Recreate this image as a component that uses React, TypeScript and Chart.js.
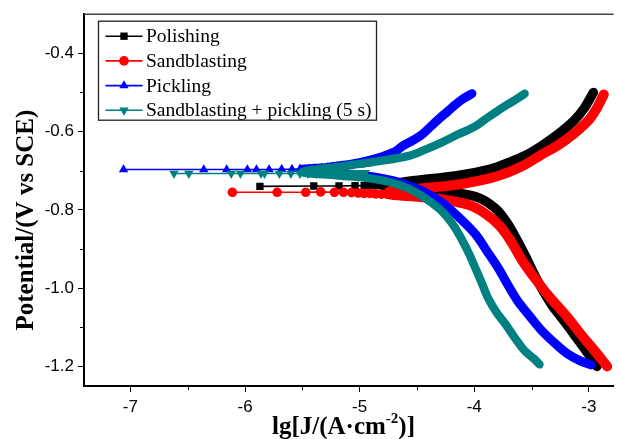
import React, { useEffect, useRef } from "react";
import { Chart, registerables } from "chart.js";

Chart.register(...registerables);

// ---------- axis values ----------
const xTickValues = [-7, -6, -5, -4, -3];
const yTickValues = [-1.2, -1.0, -0.8, -0.6, -0.4];
const xMinorTickValues = [-6.5, -5.5, -4.5, -3.5];
const yMinorTickValues = [-1.1, -0.9, -0.7, -0.5];
const xLimits = [-7.405, -2.784];
const yLimits = [-1.25, -0.3];

// ---------- series ----------
const seriesNames = ["Polishing", "Sandblasting", "Pickling", "Sandblasting + pickling (5 s)"];
const seriesColors = ["#000000", "#ff0000", "#0000ff", "#008080"];
const seriesMarkers = ["rect", "circle", "triangle", "triangleDown"];

// Polishing: [lg J, E]
const polishingCathodic = [
  [-2.93, -1.2], [-3.0, -1.17], [-3.1, -1.13], [-3.2, -1.09], [-3.33, -1.04], [-3.45, -0.98],
  [-3.55, -0.92], [-3.63, -0.875], [-3.72, -0.83], [-3.82, -0.795], [-3.99, -0.766],
  [-4.28, -0.752], [-4.55, -0.746], [-4.78, -0.742],
];
const polishingNearEcorr = [
  [-5.87, -0.74], [-5.4, -0.739], [-5.18, -0.739], [-5.04, -0.738], [-4.96, -0.738],
  [-4.9, -0.738], [-4.85, -0.738], [-4.8, -0.738],
];
const polishingAnodic = [
  [-4.78, -0.737], [-4.57, -0.727], [-4.14, -0.712], [-3.85, -0.695], [-3.71, -0.68],
  [-3.56, -0.662], [-3.42, -0.638], [-3.27, -0.607], [-3.13, -0.572], [-3.04, -0.54], [-2.96, -0.5],
];

// Sandblasting
const sandCathodic = [
  [-2.84, -1.2], [-2.95, -1.16], [-3.05, -1.125], [-3.2, -1.07], [-3.35, -1.02], [-3.47, -0.975],
  [-3.58, -0.93], [-3.68, -0.88], [-3.78, -0.84], [-3.9, -0.81], [-4.05, -0.787],
  [-4.3, -0.772], [-4.55, -0.765], [-4.75, -0.76],
];
const sandNearEcorr = [
  [-6.11, -0.755], [-5.72, -0.755], [-5.47, -0.755], [-5.34, -0.754], [-5.22, -0.755],
  [-5.14, -0.755], [-5.07, -0.756], [-5.01, -0.757], [-4.96, -0.758], [-4.91, -0.758],
  [-4.86, -0.759], [-4.81, -0.76], [-4.76, -0.76],
];
const sandAnodic = [
  [-4.74, -0.753], [-4.57, -0.748], [-4.14, -0.735], [-3.85, -0.718], [-3.71, -0.705],
  [-3.56, -0.685], [-3.42, -0.66], [-3.27, -0.635], [-3.13, -0.605], [-3.0, -0.57],
  [-2.93, -0.54], [-2.87, -0.505],
];

// Pickling
const picklingCathodic = [
  [-2.98, -1.196], [-3.08, -1.185], [-3.19, -1.167], [-3.3, -1.14], [-3.41, -1.109],
  [-3.52, -1.07], [-3.62, -1.033], [-3.71, -0.99], [-3.79, -0.949], [-3.89, -0.905],
  [-3.99, -0.862], [-4.13, -0.82], [-4.28, -0.782], [-4.45, -0.752], [-4.65, -0.73],
  [-4.85, -0.717], [-5.1, -0.708],
];
const picklingNearEcorr = [
  [-7.06, -0.697], [-6.36, -0.697], [-6.16, -0.697], [-5.98, -0.697], [-5.9, -0.697],
  [-5.79, -0.697], [-5.68, -0.696], [-5.59, -0.696], [-5.52, -0.695], [-5.44, -0.695],
  [-5.39, -0.694], [-5.33, -0.693], [-5.28, -0.692], [-5.24, -0.691], [-5.2, -0.69],
  [-5.16, -0.689], [-5.11, -0.688], [-5.07, -0.687], [-5.03, -0.686], [-4.99, -0.685],
  [-4.94, -0.683],
];
const picklingAnodic = [
  [-5.5, -0.697], [-5.3, -0.692], [-5.14, -0.686], [-5.0, -0.679], [-4.85, -0.668],
  [-4.7, -0.652], [-4.62, -0.636], [-4.52, -0.62], [-4.45, -0.606], [-4.38, -0.587],
  [-4.31, -0.568], [-4.23, -0.548], [-4.16, -0.53], [-4.09, -0.515], [-4.02, -0.503],
];

// Sandblasting + pickling (5 s)
const comboCathodic = [
  [-3.43, -1.195], [-3.48, -1.18], [-3.56, -1.16], [-3.65, -1.125], [-3.73, -1.091],
  [-3.81, -1.06], [-3.88, -1.025], [-3.93, -0.99], [-3.99, -0.949], [-4.04, -0.915],
  [-4.1, -0.88], [-4.18, -0.84], [-4.28, -0.804], [-4.42, -0.772], [-4.57, -0.746],
  [-4.75, -0.728], [-4.95, -0.718], [-5.2, -0.712],
];
const comboNearEcorr = [
  [-6.62, -0.707], [-6.49, -0.707], [-6.12, -0.707], [-6.04, -0.707], [-5.86, -0.707],
  [-5.83, -0.707], [-5.7, -0.707], [-5.6, -0.707], [-5.52, -0.707], [-5.45, -0.707],
  [-5.38, -0.707], [-5.31, -0.706], [-5.25, -0.706], [-5.19, -0.706], [-5.13, -0.705],
  [-5.07, -0.705], [-5.01, -0.705], [-4.95, -0.705],
];
const comboAnodic = [
  [-5.5, -0.703], [-5.14, -0.688], [-4.85, -0.676], [-4.57, -0.662], [-4.42, -0.645],
  [-4.28, -0.627], [-4.14, -0.607], [-4.0, -0.588], [-3.91, -0.57], [-3.81, -0.55],
  [-3.71, -0.531], [-3.62, -0.515], [-3.56, -0.503],
];

const branchData = [
  [polishingCathodic, polishingAnodic],
  [sandCathodic, sandAnodic],
  [picklingCathodic, picklingAnodic],
  [comboCathodic, comboAnodic],
];
const ecorrData = [polishingNearEcorr, sandNearEcorr, picklingNearEcorr, comboNearEcorr];

// ---------- styles ----------
const bandWidths = [9.5, 10, 9, 8.3];
const markerRadii = [5.2, 4.8, 5.4, 5.4];
const SERIF = "'Liberation Serif', 'Times New Roman', serif";
const SANS = "'Liberation Sans', Arial, sans-serif";

const toXY = (arr: number[][]) => arr.map(([x, y]) => ({ x, y }));

function drawMarker(ctx: CanvasRenderingContext2D, kind: string, x: number, y: number, r: number) {
  ctx.beginPath();
  if (kind === "rect") {
    const s = r * Math.SQRT1_2;
    ctx.rect(x - s, y - s, 2 * s, 2 * s);
  } else if (kind === "circle") {
    ctx.arc(x, y, r, 0, Math.PI * 2);
  } else {
    const dir = kind === "triangle" ? 1 : -1;
    for (let k = 0; k < 3; k++) {
      const a = (-Math.PI / 2) * dir + (k * 2 * Math.PI) / 3;
      const px = x + Math.cos(a) * r;
      const py = y + Math.sin(a) * r;
      if (k === 0) ctx.moveTo(px, py);
      else ctx.lineTo(px, py);
    }
    ctx.closePath();
  }
  ctx.fill();
}

const decorPlugin = {
  id: "decor",
  afterDraw(chart: any) {
    const ctx: CanvasRenderingContext2D = chart.ctx;
    const area = chart.chartArea;
    const xs = chart.scales.x;
    const ys = chart.scales.y;
    ctx.save();

    // top frame line
    ctx.strokeStyle = "#444";
    ctx.lineWidth = 1.5;
    ctx.beginPath();
    ctx.moveTo(area.left, area.top);
    ctx.lineTo(area.right, area.top);
    ctx.stroke();

    // minor ticks
    ctx.strokeStyle = "#000";
    ctx.lineWidth = 1;
    xMinorTickValues.forEach((v) => {
      const px = Math.round(xs.getPixelForValue(v)) + 0.5;
      ctx.beginPath();
      ctx.moveTo(px, area.bottom);
      ctx.lineTo(px, area.bottom + 4);
      ctx.stroke();
    });
    yMinorTickValues.forEach((v) => {
      const py = Math.round(ys.getPixelForValue(v)) + 0.5;
      ctx.beginPath();
      ctx.moveTo(area.left, py);
      ctx.lineTo(area.left - 4, py);
      ctx.stroke();
    });

    // legend
    const bx = area.left + 14.5;
    const by = area.top + 7;
    const bw = 278;
    const bh = 99;
    ctx.fillStyle = "#fff";
    ctx.fillRect(bx, by, bw, bh);
    ctx.strokeStyle = "#222";
    ctx.lineWidth = 1.3;
    ctx.strokeRect(bx, by, bw, bh);
    ctx.font = `19.5px ${SERIF}`;
    ctx.textBaseline = "middle";
    ctx.textAlign = "left";
    seriesNames.forEach((name, i) => {
      const cy = by + 15 + i * 24.7;
      ctx.strokeStyle = seriesColors[i];
      ctx.lineWidth = 1.6;
      ctx.beginPath();
      ctx.moveTo(bx + 7, cy);
      ctx.lineTo(bx + 44, cy);
      ctx.stroke();
      ctx.fillStyle = seriesColors[i];
      drawMarker(ctx, seriesMarkers[i], bx + 25.5, cy, markerRadii[i]);
      ctx.fillStyle = "#000";
      ctx.fillText(name, bx + 47.5, cy + 1);
    });

    // y title
    ctx.save();
    ctx.translate(27, (area.top + area.bottom) / 2 + 20);
    ctx.rotate(-Math.PI / 2);
    ctx.font = `bold 25px ${SERIF}`;
    ctx.textAlign = "center";
    ctx.textBaseline = "middle";
    ctx.fillStyle = "#000";
    ctx.fillText("Potential/(V vs SCE)", 0, 0);
    ctx.restore();

    // x title with superscript
    const big = `bold 25px ${SERIF}`;
    const small = `bold 15px ${SERIF}`;
    const parts = [
      { t: "lg[J/(A·cm", f: big, dy: 0 },
      { t: "-2", f: small, dy: -11 },
      { t: ")]", f: big, dy: 0 },
    ];
    let total = 0;
    parts.forEach((p) => {
      ctx.font = p.f;
      total += ctx.measureText(p.t).width;
    });
    let cx = 343.5 - total / 2;
    const baseY = area.bottom + 48;
    ctx.textAlign = "left";
    ctx.textBaseline = "alphabetic";
    ctx.fillStyle = "#000";
    parts.forEach((p) => {
      ctx.font = p.f;
      ctx.fillText(p.t, cx, baseY + p.dy);
      cx += ctx.measureText(p.t).width;
    });

    ctx.restore();
  },
};

export default function App() {
  const ref = useRef<HTMLCanvasElement | null>(null);

  useEffect(() => {
    document.body.style.margin = "0";
    const canvas = ref.current;
    if (!canvas) return;

    const datasets: any[] = [];
    seriesNames.forEach((name, i) => {
      const baseOrder = (4 - i) * 10;
      datasets.push({
        label: name,
        data: toXY(ecorrData[i]),
        borderColor: seriesColors[i],
        backgroundColor: seriesColors[i],
        borderWidth: 1.6,
        pointStyle: seriesMarkers[i] === "triangleDown" ? "triangle" : seriesMarkers[i],
        pointRotation: seriesMarkers[i] === "triangleDown" ? 180 : 0,
        pointRadius: markerRadii[i],
        pointBorderWidth: 0,
        showLine: true,
        tension: 0,
        order: baseOrder,
      });
      datasets.push({
        label: name + " branch",
        data: toXY([...branchData[i][0], ...branchData[i][1]]),
        borderColor: seriesColors[i],
        backgroundColor: seriesColors[i],
        borderWidth: bandWidths[i],
        borderCapStyle: "round",
        borderJoinStyle: "round",
        pointRadius: 0,
        showLine: true,
        tension: 0.35,
        order: baseOrder + 1,
      });
    });

    const chart = new Chart(canvas, {
      type: "scatter",
      data: { datasets },
      options: {
        animation: false,
        responsive: false,
        devicePixelRatio: 1,
        layout: { padding: { top: 12, right: 0, left: 0, bottom: 0 } },
        plugins: {
          legend: { display: false },
          tooltip: { enabled: false },
          title: { display: false },
        },
        scales: {
          x: {
            type: "linear",
            position: "bottom",
            min: xLimits[0],
            max: xLimits[1],
            afterBuildTicks: (s: any) => {
              s.ticks = xTickValues.map((v) => ({ value: v }));
            },
            afterFit: (s: any) => {
              s.height = 53;
            },
            ticks: {
              autoSkip: false,
              maxRotation: 0,
              color: "#000",
              padding: 5,
              font: { family: SANS, size: 17 },
              callback: (v: any) => String(v),
            },
            grid: { drawOnChartArea: false, drawTicks: true, tickLength: 6, color: "#000", lineWidth: 1 },
            border: { display: true, color: "#000", width: 2 },
            title: { display: false },
          },
          y: {
            type: "linear",
            position: "left",
            min: yLimits[0],
            max: yLimits[1],
            afterBuildTicks: (s: any) => {
              s.ticks = yTickValues.map((v) => ({ value: v }));
            },
            afterFit: (s: any) => {
              s.width = 84;
            },
            ticks: {
              autoSkip: false,
              color: "#000",
              padding: 4,
              font: { family: SANS, size: 17 },
              callback: (v: any) => Number(v).toFixed(1),
            },
            grid: { drawOnChartArea: false, drawTicks: true, tickLength: 6, color: "#000", lineWidth: 1 },
            border: { display: true, color: "#000", width: 2 },
            title: { display: false },
          },
        },
      },
      plugins: [decorPlugin],
    });

    return () => {
      chart.destroy();
    };
  }, []);

  return (
    <div style={{ width: 619, height: 439 }}>
      <canvas ref={ref} width={619} height={439} style={{ display: "block", width: 619, height: 439 }} />
    </div>
  );
}
